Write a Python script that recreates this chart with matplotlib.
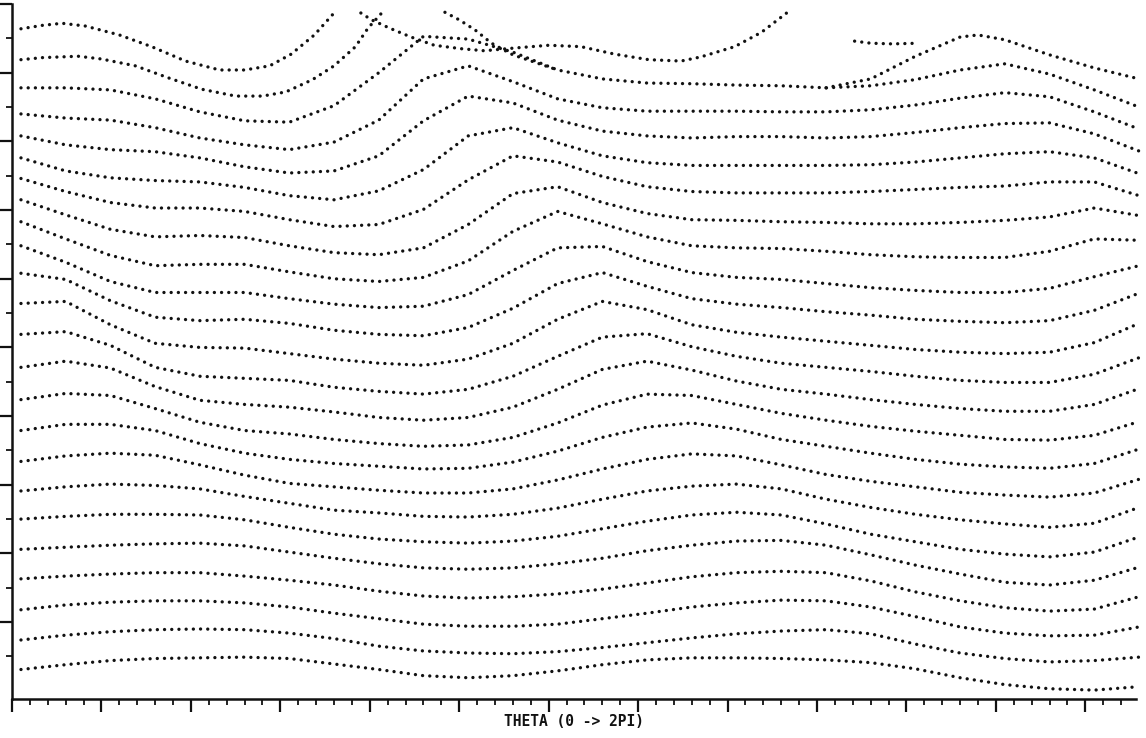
import numpy as np
import matplotlib.pyplot as plt

# sample positions along THETA shared by the long curves
theta = [0.05, 0.30, 0.55, 0.80, 1.05, 1.30, 1.55, 1.80, 2.05, 2.30, 2.55, 2.80, 3.05,
         3.30, 3.55, 3.80, 4.05, 4.30, 4.55, 4.80, 5.05, 5.30, 5.55, 5.80, 6.05, 6.30]

# top curves that leave / re-enter the frame
row_01_theta = [0.05, 0.17, 0.28, 0.41, 0.60, 0.78, 0.97, 1.16, 1.30, 1.44, 1.56, 1.69, 1.80]
row_01 = [9.64, 9.69, 9.72, 9.68, 9.55, 9.38, 9.17, 9.04, 9.04, 9.10, 9.27, 9.55, 9.87]

row_02_theta = [0.05, 0.17, 0.37, 0.50, 0.69, 0.88, 1.06, 1.25, 1.40, 1.53, 1.68, 1.80, 1.92, 1.99, 2.07]
row_02 = [9.19, 9.22, 9.24, 9.20, 9.10, 8.92, 8.76, 8.66, 8.66, 8.72, 8.90, 9.10, 9.38, 9.65, 9.88]

row_a_theta = [1.95, 2.01, 2.11, 2.23, 2.36, 2.51, 2.64, 2.81, 3.00, 3.18, 3.37, 3.56, 3.74,
               3.85, 4.04, 4.19, 4.33]
row_a = [9.87, 9.77, 9.65, 9.52, 9.40, 9.35, 9.32, 9.36, 9.40, 9.38, 9.27, 9.19, 9.17,
         9.23, 9.38, 9.59, 9.87]

t2_theta = [2.42, 2.50, 2.59, 2.68, 2.80, 3.05]
t2 = [9.88, 9.77, 9.62, 9.43, 9.26, 9.04]

row_b_theta = [4.55, 4.80, 5.05, 5.30, 5.40, 5.55, 5.80, 6.05, 6.30]
row_b = [8.78, 8.91, 9.24, 9.52, 9.55, 9.48, 9.26, 9.07, 8.91]

frag_theta = [4.71, 4.80, 4.92, 5.07]
frag = [9.46, 9.43, 9.42, 9.43]

row_03 = [8.78, 8.78, 8.75, 8.62, 8.43, 8.30, 8.28, 8.52, 9.00, 9.53, 9.49, 9.30, 9.04,
          8.91, 8.85, 8.84, 8.82, 8.81, 8.78, 8.81, 8.90, 9.04, 9.13, 8.98, 8.75, 8.50]
row_04 = [8.40, 8.34, 8.31, 8.20, 8.05, 7.95, 7.88, 7.99, 8.31, 8.91, 9.10, 8.87, 8.62,
          8.49, 8.44, 8.44, 8.44, 8.43, 8.43, 8.46, 8.53, 8.63, 8.71, 8.65, 8.43, 8.18]
row_05 = [8.08, 7.95, 7.88, 7.85, 7.76, 7.63, 7.54, 7.57, 7.79, 8.30, 8.66, 8.56, 8.31,
          8.15, 8.08, 8.05, 8.07, 8.07, 8.05, 8.07, 8.13, 8.20, 8.26, 8.27, 8.11, 7.86]
row_06 = [7.76, 7.57, 7.47, 7.43, 7.41, 7.33, 7.21, 7.15, 7.28, 7.59, 8.08, 8.20, 7.98,
          7.79, 7.69, 7.65, 7.65, 7.65, 7.65, 7.66, 7.70, 7.76, 7.82, 7.85, 7.76, 7.53]
row_07 = [7.46, 7.27, 7.11, 7.03, 7.03, 6.98, 6.86, 6.76, 6.79, 7.01, 7.44, 7.79, 7.70,
          7.49, 7.34, 7.27, 7.25, 7.25, 7.25, 7.27, 7.30, 7.33, 7.35, 7.41, 7.41, 7.21]
row_08 = [7.15, 6.93, 6.72, 6.61, 6.63, 6.60, 6.48, 6.38, 6.35, 6.45, 6.79, 7.24, 7.34,
          7.11, 6.95, 6.86, 6.85, 6.83, 6.82, 6.80, 6.80, 6.82, 6.85, 6.90, 7.03, 6.92]
row_09 = [6.83, 6.58, 6.34, 6.19, 6.21, 6.21, 6.10, 6.00, 5.96, 6.02, 6.26, 6.69, 6.98,
          6.80, 6.61, 6.48, 6.45, 6.44, 6.40, 6.35, 6.32, 6.31, 6.31, 6.40, 6.58, 6.56]
row_10 = [6.48, 6.24, 5.96, 5.80, 5.80, 5.80, 5.71, 5.63, 5.58, 5.60, 5.77, 6.12, 6.45,
          6.47, 6.25, 6.09, 6.02, 5.99, 5.93, 5.87, 5.83, 5.80, 5.80, 5.86, 6.03, 6.19]
row_11 = [6.08, 5.99, 5.68, 5.44, 5.39, 5.41, 5.35, 5.25, 5.19, 5.17, 5.29, 5.57, 5.93,
          6.09, 5.89, 5.71, 5.63, 5.58, 5.52, 5.47, 5.41, 5.38, 5.36, 5.39, 5.54, 5.79]
row_12 = [5.64, 5.67, 5.33, 5.06, 5.00, 4.99, 4.91, 4.83, 4.77, 4.74, 4.83, 5.06, 5.41,
          5.67, 5.55, 5.33, 5.22, 5.15, 5.09, 5.03, 4.97, 4.93, 4.91, 4.93, 5.07, 5.35]
row_13 = [5.19, 5.23, 5.03, 4.71, 4.58, 4.55, 4.52, 4.42, 4.36, 4.32, 4.39, 4.58, 4.87,
          5.15, 5.20, 5.01, 4.87, 4.77, 4.71, 4.65, 4.58, 4.52, 4.49, 4.49, 4.61, 4.85]
row_14 = [4.71, 4.80, 4.70, 4.43, 4.23, 4.17, 4.13, 4.06, 3.98, 3.94, 3.98, 4.13, 4.39,
          4.68, 4.80, 4.67, 4.51, 4.39, 4.32, 4.24, 4.17, 4.11, 4.07, 4.07, 4.17, 4.40]
row_15 = [4.24, 4.33, 4.30, 4.11, 3.91, 3.79, 3.74, 3.66, 3.60, 3.56, 3.58, 3.69, 3.90,
          4.16, 4.32, 4.30, 4.17, 4.04, 3.94, 3.85, 3.78, 3.72, 3.66, 3.65, 3.72, 3.92]
row_16 = [3.79, 3.88, 3.88, 3.79, 3.60, 3.46, 3.37, 3.31, 3.27, 3.23, 3.24, 3.33, 3.49,
          3.69, 3.84, 3.90, 3.81, 3.66, 3.56, 3.46, 3.37, 3.30, 3.26, 3.24, 3.31, 3.52]
row_17 = [3.34, 3.42, 3.46, 3.43, 3.29, 3.14, 3.02, 2.97, 2.92, 2.88, 2.88, 2.94, 3.07,
          3.23, 3.37, 3.45, 3.42, 3.29, 3.15, 3.05, 2.97, 2.89, 2.85, 2.82, 2.88, 3.08]
row_18 = [2.91, 2.97, 3.01, 2.99, 2.94, 2.83, 2.73, 2.63, 2.59, 2.54, 2.53, 2.57, 2.66,
          2.79, 2.91, 2.98, 3.01, 2.94, 2.79, 2.67, 2.57, 2.49, 2.43, 2.38, 2.44, 2.67]
row_19 = [2.50, 2.54, 2.57, 2.57, 2.56, 2.49, 2.38, 2.28, 2.21, 2.17, 2.15, 2.18, 2.25,
          2.36, 2.47, 2.56, 2.60, 2.56, 2.43, 2.28, 2.17, 2.06, 1.99, 1.95, 2.02, 2.24]
row_20 = [2.06, 2.09, 2.12, 2.14, 2.15, 2.11, 2.02, 1.93, 1.85, 1.79, 1.77, 1.79, 1.85,
          1.93, 2.04, 2.12, 2.18, 2.19, 2.12, 1.98, 1.83, 1.70, 1.58, 1.54, 1.61, 1.80]
row_21 = [1.63, 1.67, 1.70, 1.72, 1.72, 1.67, 1.61, 1.54, 1.45, 1.38, 1.35, 1.37, 1.41,
          1.48, 1.57, 1.66, 1.72, 1.74, 1.72, 1.60, 1.44, 1.31, 1.21, 1.16, 1.19, 1.37]
row_22 = [1.18, 1.25, 1.29, 1.31, 1.31, 1.28, 1.22, 1.13, 1.05, 0.97, 0.94, 0.94, 0.97,
          1.05, 1.13, 1.22, 1.28, 1.32, 1.31, 1.22, 1.08, 0.93, 0.84, 0.80, 0.81, 0.93]
row_23 = [0.74, 0.81, 0.86, 0.89, 0.90, 0.89, 0.84, 0.76, 0.65, 0.58, 0.55, 0.54, 0.57,
          0.63, 0.70, 0.77, 0.83, 0.87, 0.89, 0.83, 0.68, 0.55, 0.47, 0.42, 0.44, 0.49]
row_24 = [0.31, 0.38, 0.44, 0.47, 0.48, 0.49, 0.47, 0.39, 0.31, 0.22, 0.19, 0.22, 0.29,
          0.38, 0.45, 0.48, 0.48, 0.47, 0.45, 0.41, 0.32, 0.19, 0.09, 0.03, 0.01, 0.06]

rows = [row_03, row_04, row_05, row_06, row_07, row_08, row_09, row_10, row_11,
        row_12, row_13, row_14, row_15, row_16, row_17, row_18, row_19, row_20,
        row_21, row_22, row_23, row_24]
pieces = [(row_01_theta, row_01), (row_02_theta, row_02), (row_a_theta, row_a),
          (t2_theta, t2), (row_b_theta, row_b), (frag_theta, frag)]

fig = plt.figure(figsize=(11.46, 7.38), dpi=100)
fig.patch.set_facecolor('white')
ax = fig.add_axes([0.0105, 0.0528, 0.9808, 0.9417])

# round dots, like the pen plotter output
dot = dict(color='#111111', lw=2.4, linestyle=(0, (0.01, 2.15)),
           dash_capstyle='round', clip_on=False)

for r in rows:
    ax.plot(theta, r, **dot)
for th, r in pieces:
    ax.plot(th, r, **dot)

ax.set_xlim(0, 2 * np.pi)
ax.set_ylim(-0.12, 10)

for side in ['top', 'right']:
    ax.spines[side].set_visible(False)
for side in ['left', 'bottom']:
    ax.spines[side].set_linewidth(1.8)
    ax.spines[side].set_color('#111111')

ax.set_xticks(np.arange(0, 6.3, 0.5))
ax.set_xticks(np.arange(0, 6.3, 0.1), minor=True)
ax.set_yticks(np.arange(1, 11, 1))
ax.set_yticks(np.arange(0.5, 10, 1), minor=True)
ax.tick_params(which='major', direction='out', length=9, width=1.6, color='#111111',
               labelbottom=False, labelleft=False)
ax.tick_params(which='minor', direction='out', length=4.5, width=1.3, color='#111111')

ax.set_xlabel('THETA (0 -> 2PI)', family='DejaVu Sans Mono', fontweight='bold',
              fontsize=10.5, color='#111111', va='center')
ax.xaxis.set_label_coords(0.5, -0.033)

fig.savefig('out.png', dpi=100)
